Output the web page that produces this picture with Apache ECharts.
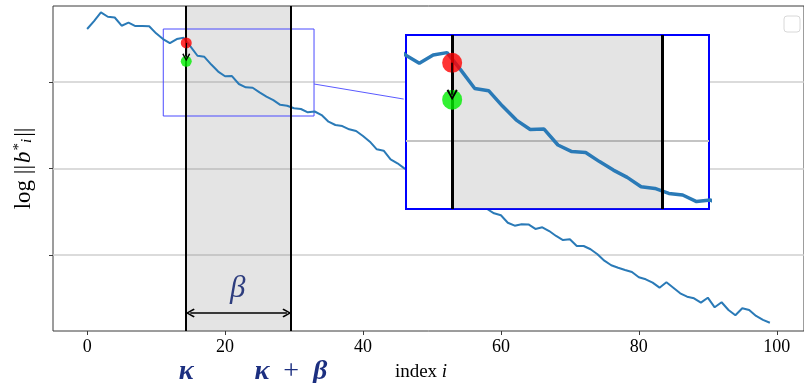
<!DOCTYPE html>
<html>
<head>
<meta charset="utf-8">
<script src="https://cdn.jsdelivr.net/npm/echarts@6/dist/echarts.min.js"></script>
<style>
html, body { margin: 0; padding: 0; background: #fff; }
#main { width: 804px; height: 383px; }
</style>
</head>
<body>
<div id="main"></div>
<script>
// index i of the Gram-Schmidt vectors
const indexValues = Array.from({ length: 100 }, (_, i) => i);
// log ||b_i*||
const logNorms = [
    3.613, 3.705, 3.806, 3.755, 3.746, 3.651, 3.686, 3.647, 3.647, 3.645,
    3.563, 3.497, 3.449, 3.497, 3.511, 3.410, 3.304, 3.291, 3.202, 3.121,
    3.067, 3.069, 2.977, 2.939, 2.934, 2.881, 2.832, 2.790, 2.736, 2.726,
    2.697, 2.688, 2.650, 2.659, 2.618, 2.541, 2.503, 2.491, 2.453, 2.434,
    2.376, 2.310, 2.222, 2.206, 2.106, 2.060, 2.002, 1.960, 1.913, 1.925,
    1.867, 1.809, 1.775, 1.728, 1.740, 1.671, 1.613, 1.578, 1.532, 1.482,
    1.459, 1.373, 1.339, 1.355, 1.353, 1.301, 1.320, 1.277, 1.220, 1.173,
    1.182, 1.104, 1.104, 1.066, 1.008, 0.934, 0.881, 0.853, 0.827, 0.803,
    0.742, 0.719, 0.680, 0.622, 0.684, 0.622, 0.557, 0.518, 0.499, 0.449,
    0.506, 0.395, 0.453, 0.364, 0.303, 0.384, 0.364, 0.295, 0.249, 0.217
];
const xTicks = [0, 20, 40, 60, 80, 100];
const yTicks = [1, 2, 3];
const insetYTicks = [3];

const kappa = 14.37;
const kappaBeta = 29.55;
const redPoint = [14.37, 3.452];
const greenPoint = [14.37, 3.239];
const zoomX = [11.04, 32.9];
const zoomY = [2.607, 3.613];

const navy = '#1c2f80';
const serif = '"Liberation Serif", "DejaVu Serif", serif';
const chevron = 'path://M0,14 L10,0 L20,14 L17,16 L10,5 L3,16 Z';

const lineData = indexValues.map((x, i) => [x, logNorms[i]]);

const chart = echarts.init(document.getElementById('main'));

const option = {
    backgroundColor: '#fff',
    animation: false,
    grid: [
        {
            left: 53, top: 6, width: 757, height: 325,
            show: true, borderColor: '#3a3a3a', borderWidth: 1, backgroundColor: '#fff'
        },
        {
            left: 406, top: 35, width: 303, height: 174, zlevel: 1,
            show: true, borderColor: '#0000ff', borderWidth: 2, backgroundColor: '#fff'
        }
    ],
    xAxis: [
        {
            type: 'value', gridIndex: 0, min: -4.95, max: 103.95,
            axisLine: { show: false, onZero: false },
            axisTick: { show: true, length: 4, customValues: xTicks, lineStyle: { color: '#3a3a3a' } },
            axisLabel: { customValues: xTicks, color: '#000', fontFamily: serif, fontSize: 18, margin: 7 },
            splitLine: { show: false }
        },
        {
            type: 'value', gridIndex: 1, min: zoomX[0], max: zoomX[1], zlevel: 1,
            axisLine: { show: false, onZero: false }, axisTick: { show: false },
            axisLabel: { show: false }, splitLine: { show: false }
        }
    ],
    yAxis: [
        {
            type: 'value', gridIndex: 0, min: 0.121, max: 3.879,
            axisLine: { show: false, onZero: false },
            axisTick: { show: true, length: 4, customValues: yTicks, lineStyle: { color: '#3a3a3a' } },
            axisLabel: { show: false },
            splitLine: { show: true, lineStyle: { color: '#cfcfcf', width: 1.5 } },
            name: '{r|log }{r|||}{it|b}{sup|*}{sub|i}{r|||}',
            nameLocation: 'middle', nameRotate: 90, nameGap: 18,
            nameTextStyle: {
                rich: {
                    r: { fontFamily: serif, fontSize: 23, color: '#000' },
                    it: { fontFamily: serif, fontSize: 23, fontStyle: 'italic', color: '#000', padding: [0, 1, 0, 2] },
                    sup: { fontFamily: serif, fontSize: 15, color: '#000', verticalAlign: 'top' },
                    sub: { fontFamily: serif, fontSize: 15, fontStyle: 'italic', color: '#000', verticalAlign: 'bottom', padding: [0, 2, 0, 0] }
                }
            }
        },
        {
            type: 'value', gridIndex: 1, min: zoomY[0], max: zoomY[1], zlevel: 1,
            axisLine: { show: false, onZero: false },
            axisTick: { show: false, customValues: insetYTicks },
            axisLabel: { show: false },
            splitLine: { show: true, lineStyle: { color: '#c4c4c4', width: 2 } }
        }
    ],
    series: [
        // main curve
        {
            type: 'line', xAxisIndex: 0, yAxisIndex: 0, data: lineData,
            symbol: 'none', z: 2,
            lineStyle: { color: '#2a7ab7', width: 2 },
            markArea: {
                silent: true, z: 1,
                data: [
                    [{ xAxis: kappa, itemStyle: { color: 'rgba(120,120,120,0.2)' } }, { xAxis: kappaBeta }],
                    [
                        { coord: [zoomX[0], zoomY[1]], itemStyle: { color: 'rgba(0,0,0,0)', borderColor: '#4b4bff', borderWidth: 1 } },
                        { coord: [zoomX[1], zoomY[0]] }
                    ]
                ]
            },
            markLine: {
                silent: true, z: 5, symbol: 'none', label: { show: false },
                lineStyle: { color: '#000', width: 2, type: 'solid' },
                data: [
                    { xAxis: kappa },
                    { xAxis: kappaBeta },
                    [
                        { coord: [zoomX[1], 2.977], lineStyle: { color: '#5a5aff', width: 1 } },
                        { coord: [45.9, 2.803] }
                    ],
                    [
                        { coord: [14.95, 0.329], symbol: chevron, symbolSize: 9, lineStyle: { width: 1.5 } },
                        { coord: [28.97, 0.329], symbol: chevron, symbolSize: 9 }
                    ]
                ]
            }
        },
        {
            type: 'scatter', xAxisIndex: 0, yAxisIndex: 0, z: 6,
            data: [{ value: redPoint, itemStyle: { color: '#ff0000' } }, { value: greenPoint, itemStyle: { color: '#00ee00' } }],
            symbolSize: 11,
            markLine: {
                silent: true, z: 7, label: { show: false },
                lineStyle: { color: '#000', width: 1.2, type: 'solid' },
                data: [[
                    { coord: redPoint, symbol: 'none' },
                    { coord: [kappa, 3.285], symbol: chevron, symbolSize: 8 }
                ]]
            }
        },
        // inset
        {
            type: 'line', xAxisIndex: 1, yAxisIndex: 1, data: lineData, zlevel: 1, z: 2,
            symbol: 'none',
            lineStyle: { color: '#2a7ab7', width: 3.5 },
            markArea: {
                silent: true, zlevel: 1, z: 1,
                data: [[{ xAxis: kappa, itemStyle: { color: 'rgba(120,120,120,0.2)' } }, { xAxis: kappaBeta }]]
            },
            markLine: {
                silent: true, zlevel: 1, z: 5, symbol: 'none', label: { show: false },
                lineStyle: { color: '#000', width: 3, type: 'solid' },
                data: [{ xAxis: kappa }, { xAxis: kappaBeta }]
            }
        },
        {
            type: 'scatter', xAxisIndex: 1, yAxisIndex: 1, zlevel: 1, z: 6,
            data: [{ value: redPoint, itemStyle: { color: '#ff0000' } }, { value: greenPoint, itemStyle: { color: '#00ee00' } }],
            symbolSize: 20,
            markLine: {
                silent: true, zlevel: 1, z: 7, label: { show: false },
                lineStyle: { color: '#000', width: 1.5, type: 'solid' },
                data: [[
                    { coord: redPoint, symbol: 'none' },
                    { coord: [kappa, 3.268], symbol: chevron, symbolSize: 11 }
                ]]
            }
        }
    ]
};

chart.setOption(option);

// text annotations placed on the main x scale
const xPx = v => chart.convertToPixel({ xAxisIndex: 0 }, v);
const labelRich = {
    k: { fontFamily: serif, fontSize: 28, fontStyle: 'italic', fontWeight: 'bold', fill: navy },
    p: { fontFamily: serif, fontSize: 28, fill: navy }
};
chart.setOption({
    graphic: [
        {
            type: 'text', x: xPx(kappa), y: 372,
            style: { text: '{k|κ}', rich: labelRich, align: 'center', verticalAlign: 'middle' }
        },
        {
            type: 'text', x: xPx(kappaBeta), y: 372,
            style: { text: '{k|κ}{p|  +  }{k|β}', rich: labelRich, align: 'center', verticalAlign: 'middle' }
        },
        {
            type: 'text', x: xPx(21.83), y: 289,
            style: { text: 'β', font: 'italic 31px ' + serif, fill: navy, align: 'center', verticalAlign: 'middle' }
        },
        {
            type: 'text', x: 421, y: 372,
            style: {
                text: '{r|index }{i|i}', align: 'center', verticalAlign: 'middle',
                rich: {
                    r: { fontFamily: serif, fontSize: 19, fill: '#000' },
                    i: { fontFamily: serif, fontSize: 19, fontStyle: 'italic', fill: '#000' }
                }
            }
        },
        {
            type: 'rect', shape: { x: 784, y: 16, width: 16, height: 16, r: 3 },
            style: { fill: '#fff', stroke: '#d8d8d8', lineWidth: 1 }
        }
    ]
});
</script>
</body>
</html>
